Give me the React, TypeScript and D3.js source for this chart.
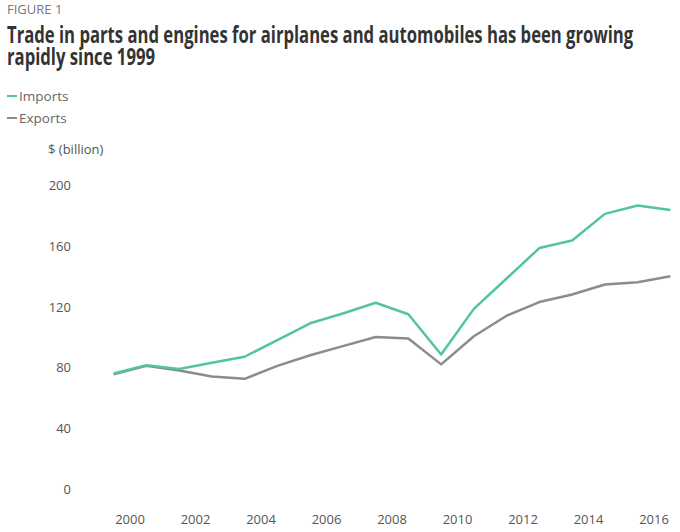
import React, { useLayoutEffect, useRef, useState } from "react";
import * as d3 from "d3";

const years = [1999.5, 2000.5, 2001.5, 2002.5, 2003.5, 2004.5, 2005.5, 2006.5, 2007.5, 2008.5, 2009.5, 2010.5, 2011.5, 2012.5, 2013.5, 2014.5, 2015.5, 2016.5];
const imports = [76, 81.5, 79, 83, 87, 98, 109, 115.5, 122.5, 115, 88.5, 118.5, 138.5, 158.5, 163.5, 181, 186.5, 183.5];
const exports_ = [75.5, 81, 78, 74, 72.5, 81, 88, 94, 100, 99, 82, 100.5, 114, 123, 128, 134.5, 136, 140];
const yTicks = [0, 40, 80, 120, 160, 200];
const xTicks = [2000, 2002, 2004, 2006, 2008, 2010, 2012, 2014, 2016];
const titleLines = ["Trade in parts and engines for airplanes and automobiles has been growing", "rapidly since 1999"];
const titleWidths = [626, 148];

const seriesList = [
  { name: "Imports", values: imports, color: "#52c4a2" },
  { name: "Exports", values: exports_, color: "#8d8b8c" },
];

function SqueezedText({ text, x, y, width, fontSize }: { text: string; x: number; y: number; width: number; fontSize: number }) {
  const ref = useRef<SVGTextElement>(null);
  const [sx, setSx] = useState(0.75);
  useLayoutEffect(() => {
    if (ref.current) {
      const w = ref.current.getComputedTextLength();
      if (w > 0) setSx(width / w);
    }
  }, [text, width]);
  return (
    <g transform={`translate(${x},${y}) scale(${sx},1)`}>
      <text ref={ref} x={0} y={0} fontSize={fontSize} fontWeight={700} fill="#333">{text}</text>
    </g>
  );
}

export default function App() {
  const W = 680, H = 532;
  const x = d3.scaleLinear().domain([2000, 2016]).range([130, 654]);
  const y = d3.scaleLinear().domain([0, 200]).range([489, 185]);
  const line = d3.line<number>().x((_, i) => x(years[i])).y((d) => y(d));
  const font = "'Open Sans', 'Noto Sans', sans-serif";
  return (
    <svg width={W} height={H} style={{ position: "absolute", left: 0, top: 0, background: "#fff" }} fontFamily={font}>
      <text x={7} y={14} fontSize={13} fill="#777">FIGURE 1</text>
      <SqueezedText text={titleLines[0]} x={7} y={43} width={titleWidths[0]} fontSize={23} />
      <SqueezedText text={titleLines[1]} x={7} y={65} width={titleWidths[1]} fontSize={23} />
      {seriesList.map((s, i) => (
        <g key={s.name} transform={`translate(7, ${96 + i * 22})`}>
          <line x1={0} x2={10} y1={0} y2={0} stroke={s.color} strokeWidth={2} />
          <text x={12} y={5} fontSize={13.5} fill="#666">{s.name}</text>
        </g>
      ))}
      <text x={48} y={154} fontSize={13} fill="#555">$ (billion)</text>
      {yTicks.map((t) => (
        <text key={t} x={71} y={y(t) + 5} fontSize={13} fill="#555" textAnchor="end">{t}</text>
      ))}
      {xTicks.map((t) => (
        <text key={t} x={x(t)} y={524} fontSize={13} fill="#555" textAnchor="middle">{t}</text>
      ))}
      {seriesList.slice().reverse().map((s) => (
        <path key={s.name} d={line(s.values) || ""} fill="none" stroke={s.color} strokeWidth={2.5} strokeLinejoin="round" />
      ))}
    </svg>
  );
}
